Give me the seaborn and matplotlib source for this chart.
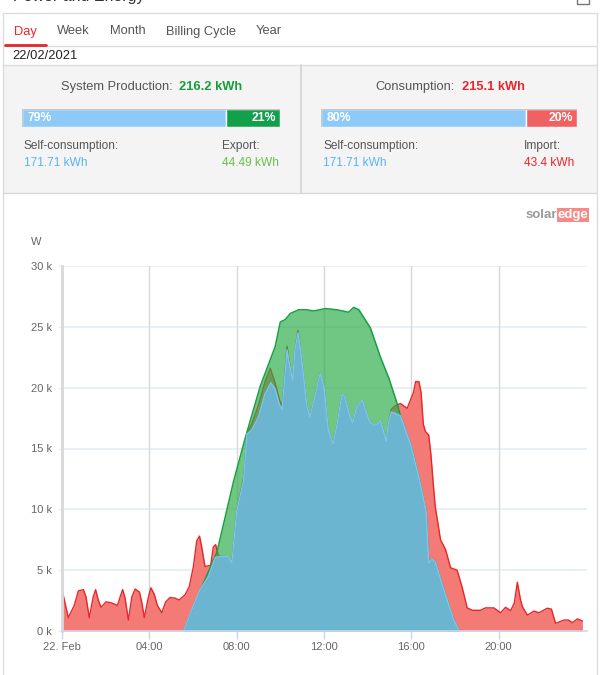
import numpy as np
import pandas as pd
import seaborn as sns
import matplotlib.pyplot as plt
from matplotlib.patches import Rectangle
from matplotlib.lines import Line2D

# readings from the SolarEdge day view, 22/02/2021 (hours, kW)
cons_t = [0.0, 0.29, 0.56, 0.75, 0.98, 1.1, 1.25, 1.43, 1.54, 1.66, 1.79, 2.02, 2.28, 2.54,
          2.69, 2.78, 2.89, 3.04, 3.2, 3.35, 3.55, 3.66, 3.77, 3.96, 4.07, 4.22, 4.37, 4.57,
          4.75, 4.95, 5.18, 5.36, 5.63, 5.83, 6.02, 6.17, 6.3, 6.4, 6.55, 6.81, 6.93, 7.04,
          7.16, 7.3, 7.63, 7.78, 8.01, 8.32, 8.47, 8.69, 9.0, 9.3, 9.54, 9.76, 9.96, 10.08,
          10.17, 10.31, 10.41, 10.57, 10.67, 10.81, 10.93, 11.07, 11.21, 11.35, 11.51, 11.83,
          12.0, 12.2, 12.43, 12.61, 12.83, 12.96, 13.15, 13.32, 13.5, 13.75, 13.96, 14.13,
          14.36, 14.59, 14.72, 14.85, 14.95, 15.08, 15.25, 15.5, 15.81, 16.1, 16.2, 16.35,
          16.45, 16.55, 16.65, 16.8, 16.9, 17.03, 17.1, 17.34, 17.57, 17.8, 18.1, 18.33,
          18.56, 18.8, 19.17, 19.4, 19.78, 20.09, 20.32, 20.55, 20.72, 20.86, 21.0, 21.09,
          21.32, 21.62, 21.85, 22.23, 22.42, 22.61, 23.0, 23.2, 23.38, 23.61, 23.84]
cons_kw = [3.4, 1.1, 2.1, 3.3, 3.4, 2.8, 1.1, 2.8, 3.4, 2.55, 1.95, 2.4, 2.3, 2.1,
           2.95, 3.4, 2.7, 0.9, 2.8, 3.45, 3.2, 2.3, 1.1, 2.8, 3.55, 3.05, 2.1, 1.5,
           2.4, 2.75, 2.7, 2.55, 2.95, 3.65, 5.3, 7.4, 7.8, 6.9, 5.3, 5.4, 6.9, 7.1,
           6.2, 6.15, 6.1, 5.6, 9.9, 12.6, 16.2, 17.0, 18.6, 20.5, 21.6, 20.4, 19.0, 18.5,
           20.2, 23.4, 22.1, 20.6, 23.1, 24.7, 23.1, 20.9, 18.6, 17.6, 18.7, 21.2,
           20.1, 16.5, 15.4, 17.1, 19.5, 19.25, 17.9, 17.1, 18.4, 19.0, 17.9, 17.1,
           16.9, 17.3, 16.5, 15.6, 17.1, 18.2, 18.5, 18.7, 18.3, 19.6, 20.5, 20.5,
           19.6, 17.0, 16.4, 16.1, 14.5, 11.6, 10.2, 7.5, 6.7, 5.2, 5.0, 3.6,
           1.9, 1.7, 1.7, 1.9, 1.9, 1.5, 1.95, 1.67, 2.3, 4.0, 2.6, 2.0,
           1.3, 1.64, 1.5, 1.87, 1.8, 0.63, 0.9, 0.9, 0.68, 1.0, 0.82]

prod_t = [5.57, 6.4, 7.1, 7.86, 8.4, 9.08, 9.77, 10.0, 10.23, 10.46, 10.84, 11.22, 11.53,
          12.06, 12.6, 13.13, 13.36, 13.6, 14.13, 14.59, 14.97, 15.35, 15.5, 15.96, 16.33,
          16.57, 16.68, 16.8, 16.95, 17.1, 17.49, 17.95, 18.2]
prod_kw = [0.0, 3.6, 6.5, 12.3, 15.9, 20.1, 23.4, 25.4, 25.6, 26.1, 26.4, 26.4, 26.3,
           26.5, 26.4, 26.2, 26.6, 26.4, 24.9, 22.5, 20.8, 18.7, 17.7, 15.4, 12.8,
           10.8, 9.8, 5.6, 5.9, 5.7, 3.4, 0.9, 0.0]

self_t = [5.57, 6.0, 6.33, 6.71, 7.02, 7.3, 7.63, 7.78, 8.01, 8.32, 8.47, 8.69, 9.0, 9.3,
          9.57, 9.76, 9.96, 10.08, 10.17, 10.31, 10.41, 10.57, 10.67, 10.81, 10.93, 11.07,
          11.21, 11.35, 11.51, 11.83, 12.0, 12.2, 12.43, 12.61, 12.83, 12.96, 13.15, 13.32,
          13.5, 13.75, 13.96, 14.13, 14.36, 14.59, 14.72, 14.85, 14.95, 15.08, 15.25, 15.5,
          15.96, 16.33, 16.57, 16.68, 16.8, 16.95, 17.1, 17.49, 17.95, 18.2]
self_kw = [0.0, 2.0, 3.4, 4.5, 6.05, 6.15, 6.1, 5.6, 9.9, 12.4, 16.2, 16.5, 17.6, 19.5,
           20.4, 19.9, 18.6, 18.2, 20.1, 23.1, 22.0, 20.6, 23.1, 24.5, 23.1, 20.9,
           18.6, 17.6, 18.7, 21.2, 20.1, 16.5, 15.4, 17.1, 19.5, 19.25, 17.9, 17.1,
           18.4, 19.0, 17.9, 17.1, 16.9, 17.3, 16.5, 15.6, 17.1, 18.0, 17.9, 17.7,
           15.4, 12.8, 10.8, 9.8, 5.6, 5.9, 5.7, 3.4, 0.9, 0.0]

tab_names = ["Day", "Week", "Month", "Billing Cycle", "Year"]
tab_x = [14, 57, 110, 166, 256]
prod_split = [79, 21]
cons_split = [80, 20]
x_ticks = [0, 4, 8, 12, 16, 20]
x_labels = ["22. Feb", "04:00", "08:00", "12:00", "16:00", "20:00"]
y_ticks = [0, 5, 10, 15, 20, 25, 30]

sns.set_style("white")
plt.rcParams['font.family'] = ['Liberation Sans', 'DejaVu Sans']

W, H = 600, 675
fig = plt.figure(figsize=(6, 6.75), dpi=100)


def fx(x):
    return x / W


def fy(y):
    return 1 - y / H


def box(x0, y0, x1, y1, **kw):
    fig.add_artist(Rectangle((fx(x0), fy(y1)), (x1 - x0) / W, (y1 - y0) / H,
                             transform=fig.transFigure, **kw))


def hline(x0, x1, y, color="#dddddd", lw=1):
    fig.add_artist(Line2D([fx(x0), fx(x1)], [fy(y), fy(y)], color=color, lw=lw,
                          transform=fig.transFigure))


def vline(x, y0, y1, color="#dddddd", lw=1):
    fig.add_artist(Line2D([fx(x), fx(x)], [fy(y0), fy(y1)], color=color, lw=lw,
                          transform=fig.transFigure))


# page frame (title is cut by the top edge, as in the screenshot)
fig.text(fx(13), fy(-4), "Power and Energy", fontsize=11.5, color="#333333", va="center")
box(577, -4, 589, 4, facecolor="none", edgecolor="#777777", lw=1)
hline(3, 597, 12.7)
vline(3, 12.7, 675)
vline(597, 12.7, 675)

# tabs
for name, x in zip(tab_names, tab_x):
    fig.text(fx(x), fy(31.5), name, fontsize=9.3, va="center",
             color="#e8262a" if name == "Day" else "#555555")
hline(3, 597, 45.7)
hline(5, 46, 44.5, color="#e8262a", lw=2)
fig.text(fx(12), fy(56), "22/02/2021", fontsize=9.3, color="#222222", va="center")
hline(3, 597, 65)

# summary panels
box(3, 65, 597, 193, facecolor="#f4f4f4", edgecolor="none", zorder=-1)
hline(3, 597, 193, color="#d8d8d8")
vline(301, 65, 193, color="#d8d8d8", lw=1.5)

fig.text(fx(61), fy(87), "System Production:", fontsize=9.3, color="#555555", va="center")
fig.text(fx(179), fy(87), "216.2 kWh", fontsize=9.3, color="#1a9b3a", va="center",
         fontweight="bold")
fig.text(fx(375), fy(87), "Consumption:", fontsize=9.3, color="#555555", va="center")
fig.text(fx(462), fy(87), "215.1 kWh", fontsize=9.3, color="#e8262a", va="center",
         fontweight="bold")


def split_bar(x0, x1, split, colors):
    bax = fig.add_axes([fx(x0), fy(127), (x1 - x0) / W, 18 / H])
    bax.set_zorder(3)
    bars = pd.DataFrame({"pct": split, "left": [0, split[0]]})
    for i, row in bars.iterrows():
        bax.barh(0, row["pct"], left=row["left"], height=1, color=colors[i])
    bax.set_xlim(0, 100)
    bax.set_ylim(-0.5, 0.5)
    bax.axis("off")
    bax.text(2.2, 0, f"{split[0]}%", color="white", fontsize=8.8, fontweight="bold",
             va="center", ha="left")
    bax.text(98.5, 0, f"{split[1]}%", color="white", fontsize=8.8, fontweight="bold",
             va="center", ha="right")
    bax.add_patch(Rectangle((0, -0.5), 100, 1, fill=False, edgecolor="#c8c8c8", lw=0.8))


split_bar(22, 280, prod_split, ["#8dcaf7", "#12a14a"])
split_bar(321, 577, cons_split, ["#8dcaf7", "#f06262"])

fig.text(fx(24), fy(146), "Self-consumption:", fontsize=8.6, color="#555555", va="center")
fig.text(fx(24), fy(163), "171.71 kWh", fontsize=8.6, color="#5ab4f0", va="center")
fig.text(fx(222), fy(146), "Export:", fontsize=8.6, color="#555555", va="center")
fig.text(fx(222), fy(163), "44.49 kWh", fontsize=8.6, color="#6cbf4a", va="center")
fig.text(fx(323), fy(146), "Self-consumption:", fontsize=8.6, color="#555555", va="center")
fig.text(fx(323), fy(163), "171.71 kWh", fontsize=8.6, color="#5ab4f0", va="center")
fig.text(fx(524), fy(146), "Import:", fontsize=8.6, color="#555555", va="center")
fig.text(fx(524), fy(163), "43.4 kWh", fontsize=8.6, color="#e8262a", va="center")

# solaredge logo
fig.text(fx(557), fy(215), "solar", fontsize=9.5, color="#9a9a9a", fontweight="bold",
         va="center", ha="right")
fig.text(fx(558), fy(215), "edge", fontsize=9.5, color="white", fontweight="bold",
         va="center", ha="left",
         bbox=dict(boxstyle="square,pad=0.05", facecolor="#f58a86", edgecolor="none"))

# chart
ax = fig.add_axes([fx(62), fy(631), 525 / W, 365 / H])
cons = pd.DataFrame({"t": cons_t, "kw": cons_kw})
prod = pd.DataFrame({"t": prod_t, "kw": prod_kw})
selfc = pd.DataFrame({"t": self_t, "kw": self_kw})

ax.fill_between(cons["t"], cons["kw"], color="#f47a76", lw=0, zorder=2)
sns.lineplot(data=cons, x="t", y="kw", ax=ax, color="#e8262a", lw=1, zorder=3)
ax.fill_between(prod["t"], prod["kw"], color="#2aac48", alpha=0.67, lw=0, zorder=4)
sns.lineplot(data=prod, x="t", y="kw", ax=ax, color="#17a043", lw=1.1, zorder=5)
ax.fill_between(selfc["t"], selfc["kw"], color="#6cb5d1", lw=0, zorder=6)
sns.lineplot(data=selfc, x="t", y="kw", ax=ax, color="#7cc4f2", lw=1, zorder=7)

ax.set_xlim(0, 24.05)
ax.set_ylim(0, 30)
ax.set_xticks(x_ticks)
ax.set_xticklabels(x_labels)
ax.set_yticks(y_ticks)
ax.set_yticklabels([f"{v} k" for v in y_ticks])
ax.set_xlabel("")
ax.set_ylabel("")
ax.grid(False)
for v in y_ticks[1:]:
    ax.axhline(v, color="#e3edf8", lw=1.2, zorder=1)
for v in x_ticks[1:]:
    ax.axvline(v, color="#d8d8d8", lw=1, zorder=1)
for s in ["top", "right"]:
    ax.spines[s].set_visible(False)
ax.spines["left"].set_color("#d8d8d8")
ax.spines["left"].set_linewidth(2)
ax.spines["bottom"].set_color("#ccd6eb")
ax.spines["bottom"].set_linewidth(1.2)
ax.spines["left"].set_zorder(8)
ax.spines["bottom"].set_zorder(8)
ax.tick_params(axis="x", colors="#ccd6eb", labelcolor="#666666", labelsize=8,
               length=6, width=1, direction="out", pad=2, bottom=True)
ax.tick_params(axis="y", colors="#e3edf8", labelcolor="#666666", labelsize=8,
               length=3, width=1, pad=4, left=True)
fig.text(fx(36), fy(242), "W", fontsize=8, color="#666666", va="center", ha="center")

fig.savefig("out.png", dpi=100)
